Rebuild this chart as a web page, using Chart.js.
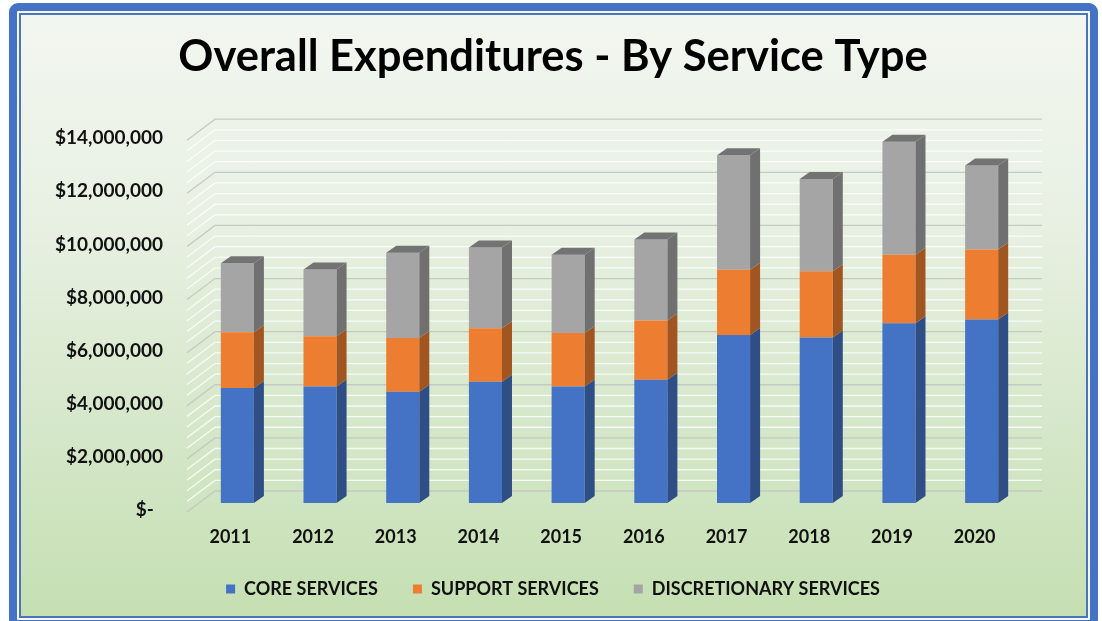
<!DOCTYPE html>
<html>
<head>
    <title>Overall Expenditures</title>
    <script src="https://cdn.jsdelivr.net/npm/chart.js@4.4.0/dist/chart.umd.min.js"></script>
    <style>
        body { margin: 0; background: #ffffff; width: 1102px; height: 621px; overflow: hidden; position: relative; }
        #frame {
            position: absolute; left: 9px; top: 3px; width: 1073px; height: 609px;
            border: 8px solid #4472c4; border-radius: 9px; background: #f4f8f2;
        }
        #inner {
            position: absolute; left: 2px; top: 2px; right: 2px; bottom: 2px;
            border: 2px solid #4a74bd;
            background: linear-gradient(to bottom, #f2f6f0 0%, #e8f0e2 35%, #d7e8cc 65%, #c5dfb2 100%);
        }
        #chart { position: absolute; left: 0; top: 0; }
    </style>
</head>
<body>
    <div id="frame"><div id="inner"></div></div>
    <canvas id="chart" width="1102" height="621"></canvas>

    <script>
        // values
        var years = ['2011', '2012', '2013', '2014', '2015', '2016', '2017', '2018', '2019', '2020'];
        var core = [4330000, 4390000, 4190000, 4570000, 4390000, 4640000, 6330000, 6230000, 6770000, 6910000];
        var support = [2100000, 1890000, 2020000, 2010000, 2010000, 2230000, 2450000, 2500000, 2580000, 2640000];
        var discretionary = [2600000, 2510000, 3210000, 3040000, 2950000, 3050000, 4310000, 3470000, 4250000, 3160000];

        var FONT = 'Lato, "DejaVu Sans", sans-serif';

        // depth of the fake 3d bars and walls
        var depth = { dx: 10, dy: 7 };
        var back = { dx: 19, dy: 12 };
        var front = { dx: -9, dy: 9 };

        function darker(hex, f) {
            var n = parseInt(hex.slice(1), 16);
            var r = Math.round(((n >> 16) & 255) * f), g = Math.round(((n >> 8) & 255) * f), b = Math.round((n & 255) * f);
            return 'rgb(' + r + ',' + g + ',' + b + ')';
        }

        var wallPlugin = {
            id: 'wall',
            beforeDatasetsDraw: function(chart) {
                var ctx = chart.ctx, y = chart.scales.y, area = chart.chartArea;
                ctx.save();
                ctx.lineWidth = 1.3;
                for (var v = 0; v <= 14000000; v += 400000) {
                    var py = y.getPixelForValue(v);
                    var major = v % 2000000 === 0;
                    ctx.strokeStyle = major ? 'rgba(195,200,192,0.95)' : 'rgba(255,255,255,0.8)';
                    ctx.beginPath();
                    ctx.moveTo(area.left + front.dx, py + front.dy);
                    ctx.lineTo(area.left + back.dx, py - back.dy);
                    ctx.lineTo(area.right + back.dx, py - back.dy);
                    ctx.stroke();
                }
                ctx.restore();
            },
            afterDatasetsDraw: function(chart) {
                var ctx = chart.ctx;
                var n = chart.data.datasets.length;
                ctx.save();
                for (var d = 0; d < n; d++) {
                    var meta = chart.getDatasetMeta(d);
                    var col = chart.data.datasets[d].backgroundColor;
                    meta.data.forEach(function(bar) {
                        var p = bar.getProps(['x', 'y', 'base', 'width'], true);
                        var l = p.x - p.width / 2, r = p.x + p.width / 2;
                        // side
                        ctx.fillStyle = darker(col, 0.68);
                        ctx.beginPath();
                        ctx.moveTo(r, p.y);
                        ctx.lineTo(r + depth.dx, p.y - depth.dy);
                        ctx.lineTo(r + depth.dx, p.base - depth.dy);
                        ctx.lineTo(r, p.base);
                        ctx.closePath();
                        ctx.fill();
                        if (d === n - 1) {
                            ctx.fillStyle = darker(col, 0.7);
                            ctx.beginPath();
                            ctx.moveTo(l, p.y);
                            ctx.lineTo(l + depth.dx, p.y - depth.dy);
                            ctx.lineTo(r + depth.dx, p.y - depth.dy);
                            ctx.lineTo(r, p.y);
                            ctx.closePath();
                            ctx.fill();
                        }
                    });
                }
                ctx.restore();
            }
        };

        var ctx = document.getElementById('chart').getContext('2d');
        var expChart = new Chart(ctx, {
            type: 'bar',
            data: {
                labels: years,
                datasets: [{
                    label: 'CORE SERVICES',
                    data: core,
                    backgroundColor: '#4472c4',
                    borderWidth: 0
                }, {
                    label: 'SUPPORT SERVICES',
                    data: support,
                    backgroundColor: '#ed7d31',
                    borderWidth: 0
                }, {
                    label: 'DISCRETIONARY SERVICES',
                    data: discretionary,
                    backgroundColor: '#a5a5a5',
                    borderWidth: 0
                }]
            },
            options: {
                responsive: false,
                animation: false,
                barPercentage: 0.4,
                categoryPercentage: 1.0,
                layout: {
                    padding: { left: 40, right: 36, top: 10, bottom: 13 }
                },
                scales: {
                    x: {
                        stacked: true,
                        grid: { display: false },
                        border: { display: false },
                        afterFit: function(scale) { scale.height = 42; },
                        ticks: {
                            color: '#111',
                            font: { family: FONT, size: 18, weight: 'bold' },
                            labelOffset: -7,
                            padding: 15
                        }
                    },
                    y: {
                        stacked: true,
                        min: 0,
                        max: 14000000,
                        grid: { display: false, drawTicks: false },
                        border: { display: false },
                        afterFit: function(scale) { scale.width = 156; },
                        ticks: {
                            stepSize: 2000000,
                            color: '#111',
                            padding: 33,
                            labelOffset: 7,
                            font: { family: FONT, size: 19, weight: 'bold' },
                            callback: function(v) {
                                if (v === 0) return '$-  ';
                                return '$' + v.toLocaleString('en-US');
                            }
                        }
                    },
                    // empty room on the right so title and legend sit centred on the page
                    spacer: {
                        position: 'right',
                        display: true,
                        grid: { display: false },
                        border: { display: false },
                        ticks: { display: false },
                        afterFit: function(scale) { scale.width = 43; }
                    }
                },
                plugins: {
                    title: {
                        display: true,
                        text: 'Overall Expenditures - By Service Type',
                        color: '#000',
                        font: { family: FONT, size: 43.5, weight: 'bold' },
                        padding: { top: 21, bottom: 48 }
                    },
                    legend: {
                        position: 'bottom',
                        labels: {
                            color: '#111',
                            boxWidth: 9,
                            boxHeight: 9,
                            padding: 35,
                            font: { family: FONT, size: 18, weight: 'bold' }
                        }
                    },
                    tooltip: { enabled: false }
                }
            },
            plugins: [wallPlugin]
        });
    </script>
</body>
</html>
